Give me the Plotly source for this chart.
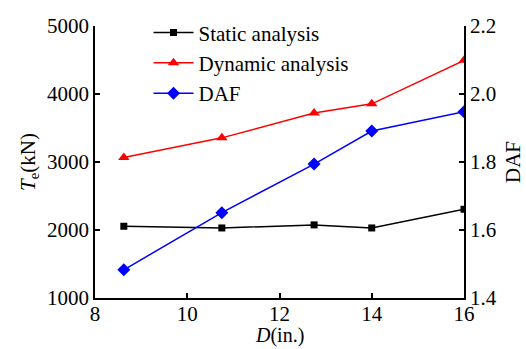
import plotly.graph_objects as go

# Pipe diameter D (in.)
diameter = [8.625, 10.75, 12.75, 14, 16]
# Effective tension Te (kN)
static_te = [2055, 2030, 2075, 2030, 2305]
dynamic_te = [3065, 3355, 3720, 3855, 4495]
# Dynamic amplification factor
daf = [1.483, 1.651, 1.794, 1.891, 1.948]

x_ticks = [8, 10, 12, 14, 16]
y_ticks = [1000, 2000, 3000, 4000, 5000]
y2_ticks = [1.4, 1.6, 1.8, 2.0, 2.2]

font = dict(family="Liberation Serif, Times New Roman, serif", size=21, color="black")
xfont = dict(family=font["family"], size=20, color="black")

fig = go.Figure()
fig.add_trace(go.Scatter(
    x=diameter, y=static_te, name="Static analysis", mode="lines+markers",
    line=dict(color="black", width=1.5),
    marker=dict(symbol="square", size=7, color="black")))
fig.add_trace(go.Scatter(
    x=diameter, y=dynamic_te, name="Dynamic analysis", mode="lines+markers",
    line=dict(color="#ff0000", width=1.5),
    marker=dict(symbol="triangle-up", size=10, color="#ff0000")))
fig.add_trace(go.Scatter(
    x=diameter, y=daf, name="DAF", mode="lines+markers", yaxis="y2",
    line=dict(color="#0000ff", width=1.5),
    marker=dict(symbol="diamond", size=10, color="#0000ff")))

axis_common = dict(
    showgrid=False, zeroline=False, showline=True, linecolor="black", linewidth=1.5,
    ticks="inside", ticklen=5, tickwidth=1.5, tickcolor="black",
    automargin=False,
)

fig.update_layout(
    width=526, height=349,
    margin=dict(l=95, r=62, t=21, b=51),
    paper_bgcolor="white", plot_bgcolor="white",
    font=font,
    showlegend=True,
    legend=dict(x=0.145, y=1.05, xanchor="left", yanchor="top",
                bgcolor="rgba(0,0,0,0)", font=font,
                tracegroupgap=0, itemwidth=40),
    xaxis=dict(range=[8, 16], tickvals=x_ticks, tickfont=font,
               ticklabelstandoff=-4, **axis_common),
    yaxis=dict(range=[1000, 5000], tickvals=y_ticks, tickfont=font,
               title=dict(text="<i>T</i><sub>e</sub>(kN)", font=font, standoff=6),
               **axis_common),
    yaxis2=dict(range=[1.4, 2.2], tickvals=y2_ticks, tickformat=".1f", tickfont=font,
                overlaying="y", side="right",
                title=dict(text="DAF", font=font, standoff=10),
                **axis_common),
)

# x-axis title sitting at the bottom edge, under the tick labels
fig.add_annotation(
    text="<i>D</i>(in.)", xref="paper", yref="paper", x=0.5, y=-51 / 277,
    xanchor="center", yanchor="bottom", showarrow=False, borderpad=0,
    font=xfont,
)

fig.write_html("out.html")
